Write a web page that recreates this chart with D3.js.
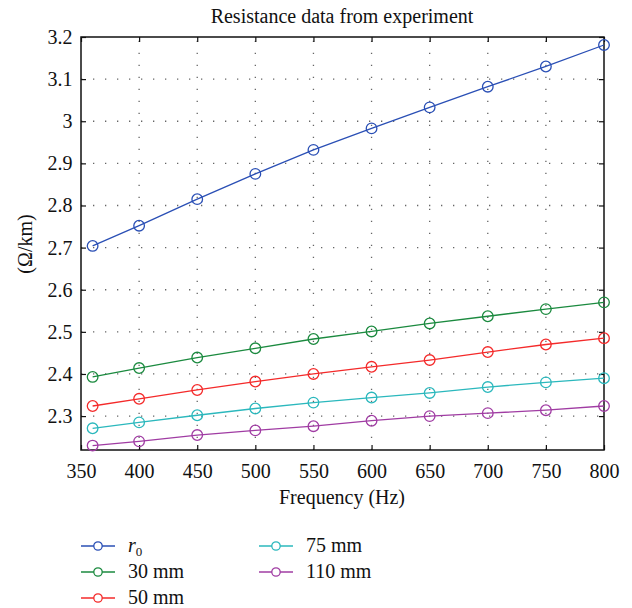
<!DOCTYPE html>
<html>
<head>
<meta charset="utf-8">
<script src="https://cdn.jsdelivr.net/npm/d3@7/dist/d3.min.js"></script>
<style>
  html, body { margin: 0; padding: 0; background: #fff; }
</style>
</head>
<body>
<svg id="chart" width="632" height="608"></svg>
<script>
// Measured resistance (Ω/km) versus frequency for each cable distance
const frequencies = [360, 400, 450, 500, 550, 600, 650, 700, 750, 800];
const r0     = [2.704, 2.752, 2.815, 2.875, 2.932, 2.983, 3.033, 3.082, 3.130, 3.181];
const mm30   = [2.393, 2.414, 2.439, 2.461, 2.483, 2.501, 2.520, 2.537, 2.554, 2.570];
const mm50   = [2.324, 2.341, 2.362, 2.382, 2.400, 2.417, 2.433, 2.452, 2.470, 2.485];
const mm75   = [2.271, 2.285, 2.302, 2.318, 2.332, 2.344, 2.355, 2.369, 2.380, 2.390];
const mm110  = [2.230, 2.240, 2.255, 2.266, 2.276, 2.289, 2.300, 2.307, 2.314, 2.324];

const seriesNames  = ["r0", "30 mm", "50 mm", "75 mm", "110 mm"];
const seriesValues = [r0, mm30, mm50, mm75, mm110];
const seriesColors = ["#2a4fb5", "#1b8a3f", "#f42a2a", "#2bb8bd", "#a03ca3"];

const xTicks = [350, 400, 450, 500, 550, 600, 650, 700, 750, 800];
const yTicks = [2.3, 2.4, 2.5, 2.6, 2.7, 2.8, 2.9, 3.0, 3.1, 3.2];

const titleText = "Resistance data from experiment";
const xLabel = "Frequency (Hz)";
const yLabel = "(Ω/km)";

const FONT = "'Liberation Serif', 'Times New Roman', serif";
const FS = 20;

const svg = d3.select("#chart");
const plot = { left: 81, right: 604, top: 37, bottom: 450 };

const x = d3.scaleLinear().domain([350, 800]).range([plot.left, plot.right]);
const y = d3.scaleLinear().domain([2.2195, 3.2]).range([plot.bottom, plot.top]);

// dotted grid
const grid = svg.append("g").attr("stroke", "#666").attr("stroke-width", 1.3)
  .attr("stroke-dasharray", "1.3,10.7");
grid.selectAll("line.gx").data(xTicks.slice(1, -1)).join("line")
  .attr("x1", d => x(d)).attr("x2", d => x(d))
  .attr("y1", plot.bottom).attr("y2", plot.top);
grid.selectAll("line.gy").data(yTicks.slice(0, -1)).join("line")
  .attr("y1", d => y(d)).attr("y2", d => y(d))
  .attr("x1", plot.left).attr("x2", plot.right);

// axes with inward ticks on all four sides
const tickLen = 5;
const fmtY = d => String(+d.toFixed(1));
const axBottom = d3.axisBottom(x).tickValues(xTicks).tickSizeInner(-tickLen).tickSizeOuter(0).tickPadding(14);
const axTop = d3.axisTop(x).tickValues(xTicks).tickSizeInner(-tickLen).tickSizeOuter(0).tickFormat("");
const axLeft = d3.axisLeft(y).tickValues(yTicks).tickSizeInner(-tickLen).tickSizeOuter(0).tickPadding(8.5).tickFormat(fmtY);
const axRight = d3.axisRight(y).tickValues(yTicks).tickSizeInner(-tickLen).tickSizeOuter(0).tickFormat("");

function styleAxis(g) {
  g.attr("font-family", null).attr("font-size", null);
  g.select(".domain").remove();
  g.selectAll(".tick line").attr("stroke", "#111").attr("stroke-width", 1.2);
  g.selectAll(".tick text")
    .style("font-family", FONT).style("font-size", FS + "px").attr("fill", "#111");
}
svg.append("g").attr("transform", `translate(0,${plot.bottom})`).call(axBottom).call(styleAxis);
svg.append("g").attr("transform", `translate(0,${plot.top})`).call(axTop).call(styleAxis);
svg.append("g").attr("transform", `translate(${plot.left},0)`).call(axLeft).call(styleAxis);
svg.append("g").attr("transform", `translate(${plot.right},0)`).call(axRight).call(styleAxis);

// frame
svg.append("rect")
  .attr("x", plot.left).attr("y", plot.top)
  .attr("width", plot.right - plot.left).attr("height", plot.bottom - plot.top)
  .attr("fill", "none").attr("stroke", "#111").attr("stroke-width", 1.5);

// series lines and circle markers
const line = d3.line().x(d => x(d[0])).y(d => y(d[1]));
seriesValues.forEach((vals, i) => {
  const pts = frequencies.map((f, j) => [f, vals[j]]);
  const g = svg.append("g");
  g.append("path").datum(pts).attr("d", line)
    .attr("fill", "none").attr("stroke", seriesColors[i]).attr("stroke-width", 1.3);
  g.selectAll("circle").data(pts).join("circle")
    .attr("cx", d => x(d[0])).attr("cy", d => y(d[1])).attr("r", 5.3)
    .attr("fill", "none").attr("stroke", seriesColors[i]).attr("stroke-width", 1.3);
});

function label(sel) {
  return sel.style("font-family", FONT).style("font-size", FS + "px").attr("fill", "#111");
}

// title and axis labels
svg.append("text").attr("x", 342).attr("y", 23).attr("text-anchor", "middle")
  .call(label).text(titleText);
svg.append("text").attr("x", 342).attr("y", 504).attr("text-anchor", "middle")
  .call(label).text(xLabel);
svg.append("text").attr("transform", "translate(32,244) rotate(-90)").attr("text-anchor", "middle")
  .call(label).text(yLabel);

// legend in two columns
const legendPos = [
  { x: 81, y: 546 }, { x: 81, y: 572 }, { x: 81, y: 598 },
  { x: 259, y: 546 }, { x: 259, y: 572 }
];
seriesNames.forEach((name, i) => {
  const p = legendPos[i];
  const g = svg.append("g").attr("transform", `translate(${p.x},${p.y})`);
  g.append("line").attr("x1", 0).attr("x2", 34).attr("y1", 0).attr("y2", 0)
    .attr("stroke", seriesColors[i]).attr("stroke-width", 1.3);
  g.append("circle").attr("cx", 17).attr("cy", 0).attr("r", 4.2)
    .attr("fill", "#fff").attr("stroke", seriesColors[i]).attr("stroke-width", 1.3);
  const t = g.append("text").attr("x", 47).attr("y", 6).call(label);
  if (name === "r0") {
    t.append("tspan").style("font-style", "italic").text("r");
    t.append("tspan").style("font-size", "13px").attr("dy", 4).text("0");
  } else {
    t.text(name);
  }
});
</script>
</body>
</html>
